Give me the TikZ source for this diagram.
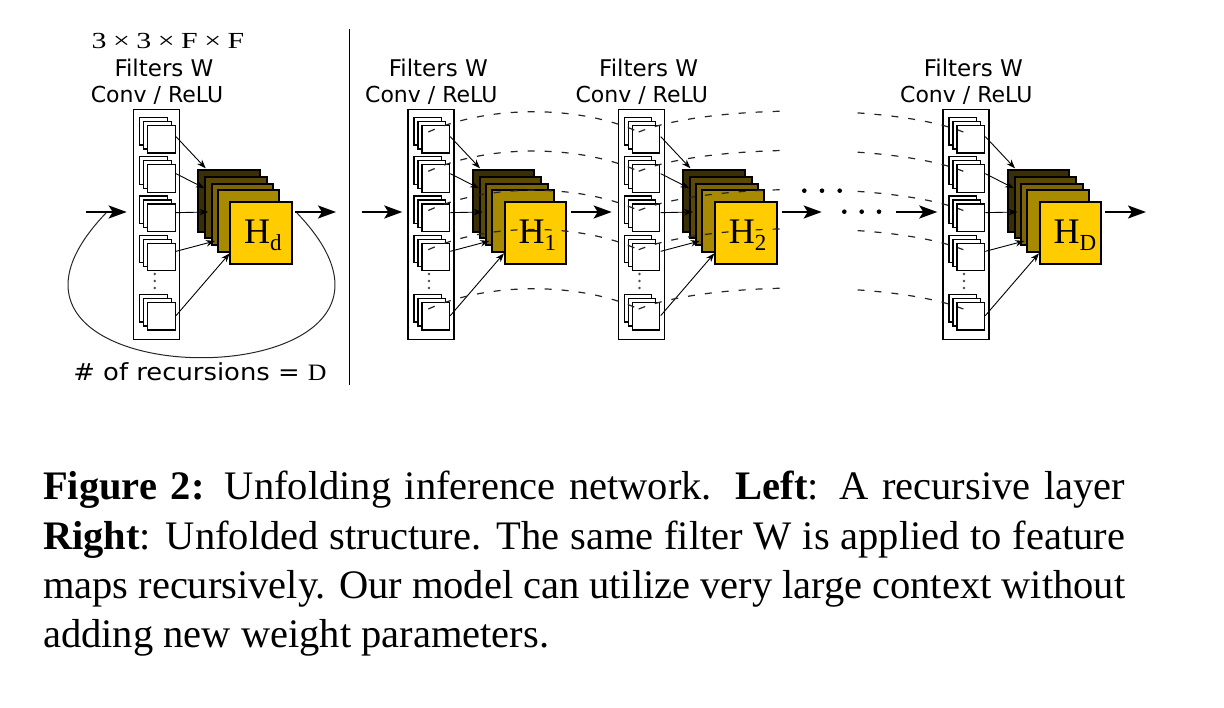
\documentclass[tikz,border=0pt]{standalone}
\usepackage{fontspec}
\usepackage{graphicx}
\setmainfont{Liberation Serif}
\newfontfamily\dvs{DejaVu Sans}
\usetikzlibrary{arrows.meta,calc}
\definecolor{fmA}{HTML}{3A2F04}
\definecolor{fmB}{HTML}{5A4806}
\definecolor{fmC}{HTML}{7E6508}
\definecolor{fmD}{HTML}{A88A00}
\definecolor{fmE}{HTML}{FFCC00}
\tikzset{
  sqr/.style={draw=black, fill=white, line width=1.2pt, minimum size=27.5pt, inner sep=0pt, anchor=north west},
  colbox/.style={draw=black, fill=white, line width=1.2pt, minimum width=46pt, minimum height=230pt, inner sep=0pt, anchor=north west},
  fmap/.style={draw=black, line width=2pt, minimum size=61.5pt, inner sep=0pt, anchor=north west},
  thinarrow/.style={-{Stealth[length=9pt,width=6.5pt]}, line width=0.9pt},
  mainarrow/.style={-{Stealth[length=18pt,width=13pt,inset=4pt]}, line width=2.2pt},
  share/.style={dash pattern=on 7pt off 10pt, line width=1.2pt, black!85},
  lab/.style={font=\dvs\fontsize{22}{26}\selectfont, anchor=base, inner sep=0pt},
  hlab/.style={font=\fontsize{36}{40}\selectfont, anchor=base west, inner sep=0pt},
  captext/.style={font=\fontsize{40.5}{49}\selectfont, anchor=base west, inner sep=0pt},
  bigdot/.style={fill=black},
}
\newcommand\drawcol[3]{%
  \node[colbox] (col#2) at (#1,109.3) {};
  \foreach \r/\t in {1/125,2/164.3,3/203.5,4/242.7,5/302}{
    \node[sqr] (b#2\r) at (#1+6,\t-8) {};
    \node[sqr] (m#2\r) at (#1+10,\t-4) {};
    \node[sqr] (f#2\r) at (#1+14,\t) {};
  }
  \foreach \d in {274,281,288} \fill[black!70] (#1+21.7,\d) circle (1.4pt);
  \node[fmap, fill=fmA] (hA#2) at (#1+64.3,169.3) {};
  \node[fmap, fill=fmB] (hB#2) at (#1+71.3,176) {};
  \node[fmap, fill=fmC] (hC#2) at (#1+77.7,182.7) {};
  \node[fmap, fill=fmD] (hD#2) at (#1+83.7,189.3) {};
  \node[fmap, fill=fmE] (hE#2) at (#1+96.3,201.3) {};
  \node[hlab] (ht#2) at (#1+111,243.3) {H\raisebox{-7.4pt}{\fontsize{23}{26}\selectfont #3}};
  \foreach \r/\dy/\dx/\ey in {1/-2.7/8.4/-1, 2/-5/7.4/19, 3/-5.2/11/42.7, 4/-5.7/17.7/71.7, 5/-0.7/32.4/84}
    \draw[thinarrow] ($(f#2\r.east)+(0.3,\dy)$) -- ($(hA#2.north west)+(\dx,\ey)$);
  \node[lab, font=\dvs\fontsize{23}{26}\selectfont] (fw#2) at (#1+31,77) {Filters W};
  \node[lab] (cr#2) at (#1+24,102.7) {Conv / ReLU};
}
\begin{document}
\begin{tikzpicture}[x=1pt,y=-1pt]
\useasboundingbox (0,0) rectangle (1224,708);
% left: recursive layer
\drawcol{133}{0}{d}
\node[lab, font=\fontsize{23}{28}\selectfont] (dims) at (168,48.3)
  {\scalebox{1.3}[1]{3\hspace{5pt}×\hspace{5pt}3\hspace{5pt}×\hspace{5pt}F\hspace{5pt}×\hspace{5pt}F}};
\node[lab, font=\dvs\fontsize{23.5}{28}\selectfont] (rec) at (200,380.5) {\scalebox{1.1}[1]{\# of recursions = {\rmfamily D}}};
\coordinate (a0s) at (86,212);
\coordinate (a0e) at (126.7,212);
\coordinate (o0s) at (295,212);
\coordinate (o0e) at (336,212);
\coordinate (lpS) at (297,213);
\coordinate (lpE) at (106,213);
\draw[line width=1pt, black!85] (lpS) .. controls +(185,193) and +(-185,193) .. (lpE);
\draw[mainarrow] (a0s) -- (a0e);
\draw[mainarrow] (o0s) -- (o0e);
% separator
\coordinate (sepT) at (349.3,29.3);
\coordinate (sepB) at (349.3,385);
\draw[line width=1.2pt] (sepT) -- (sepB);
% right: unfolded
\drawcol{407.3}{1}{1}
\drawcol{617.7}{2}{2}
\drawcol{942.3}{3}{D}
\coordinate (a1s) at (361.7,212); \coordinate (a1e) at (402.3,212);
\coordinate (a2s) at (571,212);   \coordinate (a2e) at (611.7,212);
\coordinate (a3s) at (781.7,212); \coordinate (a3e) at (821.7,212);
\coordinate (a4s) at (896,212);   \coordinate (a4e) at (937.3,212);
\coordinate (a5s) at (1105,212);  \coordinate (a5e) at (1146,212);
\foreach \k in {1,...,5} \draw[mainarrow] (a\k s) -- (a\k e);
\foreach \x in {844.3,861.7,879} \fill[bigdot] (\x,211.7) circle (2.3pt);
\foreach \x in {804.3,822,839.7} \fill[bigdot] (\x,190.7) circle (2.3pt);
% shared-weight dashed arcs
\foreach \r in {1,...,5}
  \draw[share] ($(f1\r.north west)+(7,7)$) .. controls +(60,-27) and +(-60,-27) .. ($(f2\r.north west)+(7,7)$);
\begin{scope}
  \clip (600,0) rectangle (782,400) (856,0) rectangle (1000,400);
  \foreach \r in {1,...,5}
    \draw[share] ($(f2\r.north west)+(7,7)$) .. controls +(70,-28) and +(-70,-28) .. ($(f3\r.north west)+(7,7)$);
\end{scope}
% caption
\node[captext] (c1) at (43,500) {\makebox[1082pt][s]{\textbf{Figure 2:} Unfolding inference network. \textbf{Left}: A recursive layer}};
\node[captext] (c2) at (43,549) {\makebox[1082pt][s]{\textbf{Right}: Unfolded structure. The same filter W is applied to feature}};
\node[captext] (c3) at (43,598) {\makebox[1082pt][s]{maps recursively. Our model can utilize very large context without}};
\node[captext] (c4) at (43,647) {adding new weight parameters.};
\end{tikzpicture}
\end{document}
